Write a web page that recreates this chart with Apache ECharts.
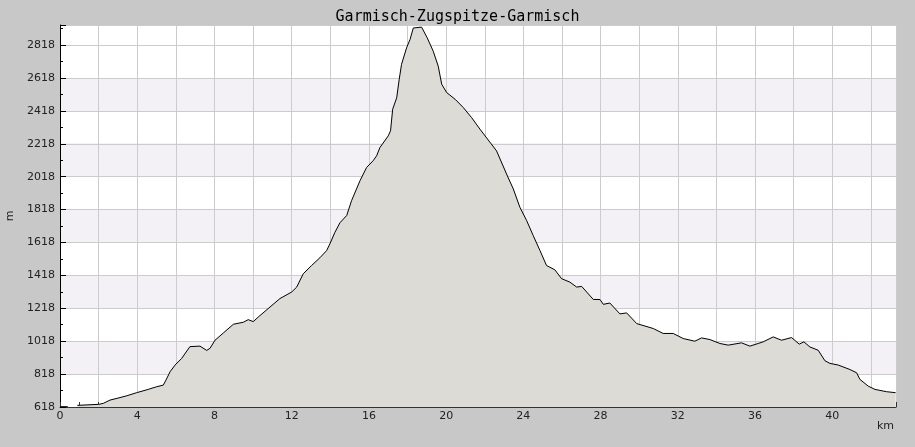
<!DOCTYPE html>
<html>
<head>
<meta charset="utf-8">
<script src="https://cdn.jsdelivr.net/npm/echarts@6/dist/echarts.min.js"></script>
<style>
html,body{margin:0;padding:0;background:#c8c8c8;}
#chart{width:915px;height:447px;}
</style>
</head>
<body>
<div id="chart"></div>
<script>
const title = 'Garmisch-Zugspitze-Garmisch';
const xName = 'km';
const yName = 'm';
const distanceKm = [0, 0.4, 0.65, 0.9, 1.0, 2.0, 2.24, 2.59, 3.0, 3.45, 3.97, 4.57, 5.0, 5.35, 5.49, 5.70, 5.96, 6.30, 6.73, 7.25, 7.60, 7.77, 8.03, 8.46, 8.98, 9.49, 9.75, 10.01, 10.27, 10.88, 11.39, 12.0, 12.26, 12.6, 13.03, 13.46, 13.81, 13.98, 14.24, 14.5, 14.85, 15.1, 15.54, 15.88, 16.22, 16.4, 16.57, 17.0, 17.12, 17.23, 17.44, 17.57, 17.69, 17.95, 18.13, 18.3, 18.73, 19.02, 19.33, 19.59, 19.77, 20.03, 20.46, 20.89, 21.32, 21.75, 22.61, 23.13, 23.48, 23.82, 24.17, 24.51, 24.86, 25.2, 25.63, 25.98, 26.41, 26.76, 27.02, 27.62, 27.97, 28.14, 28.48, 29.0, 29.35, 29.87, 30.73, 31.24, 31.76, 32.28, 32.88, 33.23, 33.66, 34.18, 34.61, 35.3, 35.73, 36.16, 36.42, 36.94, 37.37, 37.89, 38.29, 38.53, 38.84, 39.27, 39.62, 39.88, 40.31, 40.91, 41.26, 41.43, 41.86, 42.21, 42.81, 43.28];
const elevationM = [620, 620, null, 628, 634, 634, 640, 660, 672, 686, 705, 725, 741, 751, 782, 832, 873, 913, 985, 988, 962, 975, 1024, 1068, 1121, 1133, 1149, 1137, 1165, 1226, 1277, 1317, 1347, 1428, 1478, 1525, 1569, 1610, 1680, 1738, 1782, 1872, 1994, 2074, 2115, 2145, 2195, 2266, 2297, 2428, 2498, 2610, 2701, 2801, 2852, 2922, 2927, 2862, 2781, 2690, 2580, 2529, 2489, 2438, 2377, 2307, 2175, 2034, 1943, 1832, 1751, 1660, 1569, 1478, 1452, 1398, 1377, 1347, 1351, 1272, 1271, 1242, 1250, 1184, 1190, 1125, 1095, 1065, 1065, 1034, 1018, 1038, 1028, 1004, 994, 1008, 988, 1004, 1014, 1044, 1024, 1040, 1000, 1014, 983, 963, 899, 883, 873, 846, 826, 786, 745, 725, 711, 705];
const yMin = 618, yMax = 2940, yStep = 200;
const xMin = 0, xMax = 43.3, xStep = 2, xLabelStep = 4;

// alternating band colours: shaded bands start at 818, 1218, ... ; partial top band white
const bandColors = [];
for (let v = yMin, i = 0; v < yMax; v += yStep, i++) {
  const full = v + yStep <= yMax;
  bandColors.push(full && i % 2 === 1 ? '#f3f1f5' : '#ffffff');
}

const data = distanceKm.map((d, i) => [d, elevationM[i]]);
const chart = echarts.init(document.getElementById('chart'), null, {renderer: 'canvas'});
chart.setOption({
  backgroundColor: '#c8c8c8',
  animation: false,
  title: {
    text: title, left: 'center', top: 5,
    textStyle: {fontFamily: 'DejaVu Sans Mono', fontSize: 15, fontWeight: 'normal', color: '#000'}
  },
  grid: {left: 60, right: 19, top: 25, bottom: 40, show: false, containLabel: false, outerBoundsMode: 'none'},
  xAxis: {
    type: 'value', min: xMin, max: xMax, interval: xStep,
    name: xName, nameLocation: 'end', nameGap: -2,
    nameTextStyle: {fontFamily: 'DejaVu Sans', fontSize: 11, color: '#222', align: 'right', verticalAlign: 'top', padding: [14, 0, 0, 0]},
    axisLine: {show: true, lineStyle: {color: '#333', width: 1}},
    axisTick: {show: true, inside: true, length: 5, lineStyle: {color: '#333'}},
    minorTick: {show: true, splitNumber: 2, length: 5, lineStyle: {color: '#333'}},
    axisLabel: {
      fontFamily: 'DejaVu Sans', fontSize: 11, color: '#222', margin: 4, showMaxLabel: false,
      formatter: v => (Math.abs(v % xLabelStep) < 1e-9 ? String(v) : '')
    },
    splitLine: {show: true, lineStyle: {color: '#cccccc', width: 1}}
  },
  yAxis: {
    type: 'value', min: yMin, max: yMax, interval: yStep,
    name: yName, nameLocation: 'middle', nameGap: 44, nameRotate: 90,
    nameTextStyle: {fontFamily: 'DejaVu Sans', fontSize: 11, color: '#222'},
    axisLine: {show: true, lineStyle: {color: '#000', width: 1}},
    axisTick: {show: true, inside: true, length: 6, lineStyle: {color: '#000'}},
    minorTick: {show: true, splitNumber: 2, length: 3, lineStyle: {color: '#000'}},
    axisLabel: {fontFamily: 'DejaVu Sans', fontSize: 11, color: '#222', margin: 5, showMaxLabel: false,
      formatter: v => String(v)},
    splitLine: {show: true, lineStyle: {color: '#cccccc', width: 1}},
    splitArea: {show: true, areaStyle: {color: bandColors}}
  },
  series: [{
    type: 'line', data: data, showSymbol: false, symbol: 'none',
    connectNulls: false,
    lineStyle: {color: '#000', width: 1},
    areaStyle: {color: '#dcdbd6', opacity: 1, origin: 'start'}
  }]
});
</script>
</body>
</html>
